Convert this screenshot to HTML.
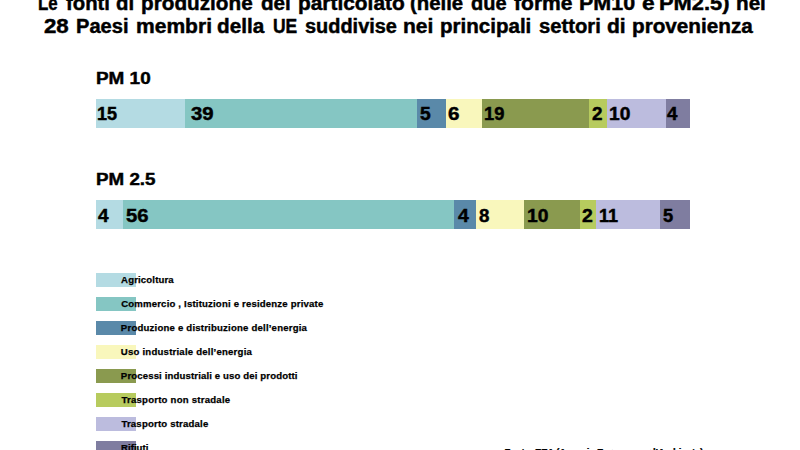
<!DOCTYPE html>
<html><head><meta charset="utf-8">
<style>
html,body{margin:0;padding:0;background:#fff;width:800px;height:450px;overflow:hidden;position:relative;}
body{font-family:"Liberation Sans", sans-serif;font-weight:bold;color:#000;}
.t{position:absolute;white-space:nowrap;line-height:1;transform-origin:0 0;-webkit-text-stroke:0.45px #000;}
.b{position:absolute;}
.c1{background:#b4dbe3}
.c2{background:#85c6c3}
.c3{background:#5a89a9}
.c4{background:#f9f7bc}
.c5{background:#8a9a4f}
.c6{background:#b7cb5e}
.c7{background:#bcbcde}
.c8{background:#7f7da0}
</style></head><body>
<div class="b c1" style="left:96.00px;top:99px;width:89.40px;height:29px;"></div>
<div class="b c2" style="left:185.40px;top:99px;width:231.60px;height:29px;"></div>
<div class="b c3" style="left:417.00px;top:99px;width:29.00px;height:29px;"></div>
<div class="b c4" style="left:446.00px;top:99px;width:36.00px;height:29px;"></div>
<div class="b c5" style="left:482.00px;top:99px;width:107.00px;height:29px;"></div>
<div class="b c6" style="left:589.00px;top:99px;width:18.00px;height:29px;"></div>
<div class="b c7" style="left:607.00px;top:99px;width:59.00px;height:29px;"></div>
<div class="b c8" style="left:666.00px;top:99px;width:24.00px;height:29px;"></div>
<div class="b c1" style="left:96.00px;top:200px;width:27.00px;height:29px;"></div>
<div class="b c2" style="left:123.00px;top:200px;width:331.00px;height:29px;"></div>
<div class="b c3" style="left:454.00px;top:200px;width:22.00px;height:29px;"></div>
<div class="b c4" style="left:476.00px;top:200px;width:48.00px;height:29px;"></div>
<div class="b c5" style="left:524.00px;top:200px;width:56.00px;height:29px;"></div>
<div class="b c6" style="left:580.00px;top:200px;width:15.50px;height:29px;"></div>
<div class="b c7" style="left:595.50px;top:200px;width:64.50px;height:29px;"></div>
<div class="b c8" style="left:660.00px;top:200px;width:29.50px;height:29px;"></div>
<div class="b c1" style="left:96px;top:273px;width:40px;height:13.5px;"></div>
<div class="b c2" style="left:96px;top:297px;width:40px;height:13.5px;"></div>
<div class="b c3" style="left:96px;top:321px;width:40px;height:13.5px;"></div>
<div class="b c4" style="left:96px;top:345px;width:40px;height:13.5px;"></div>
<div class="b c5" style="left:96px;top:369px;width:40px;height:13.5px;"></div>
<div class="b c6" style="left:96px;top:393px;width:40px;height:13.5px;"></div>
<div class="b c7" style="left:96px;top:417px;width:40px;height:13.5px;"></div>
<div class="b c8" style="left:96px;top:441px;width:40px;height:13.5px;"></div>
<div class="t" id="pm10" style="left:95.61px;top:71.32px;font-size:16.80px;transform:scaleX(1.1268);">PM 10</div>
<div class="t" id="pm25" style="left:95.73px;top:172.40px;font-size:16.80px;transform:scaleX(1.1191);">PM 2.5</div>
<div class="t" id="t1_0" style="left:38.17px;top:-7.50px;font-size:20.00px;transform:scaleX(0.8421);">Le</div>
<div class="t" id="t1_1" style="left:65.80px;top:-7.50px;font-size:20.00px;transform:scaleX(1.0151);">fonti</div>
<div class="t" id="t1_2" style="left:116.43px;top:-7.50px;font-size:20.00px;transform:scaleX(1.0179);">di</div>
<div class="t" id="t1_3" style="left:141.46px;top:-7.50px;font-size:20.00px;transform:scaleX(1.0361);">produzione</div>
<div class="t" id="t1_4" style="left:260.53px;top:-7.50px;font-size:20.00px;transform:scaleX(1.0332);">del</div>
<div class="t" id="t1_5" style="left:297.54px;top:-7.50px;font-size:20.00px;transform:scaleX(1.0440);">particolato</div>
<div class="t" id="t1_6" style="left:410.06px;top:-7.50px;font-size:20.00px;transform:scaleX(1.0182);">(nelle</div>
<div class="t" id="t1_7" style="left:470.52px;top:-7.50px;font-size:20.00px;transform:scaleX(1.0003);">due</div>
<div class="t" id="t1_8" style="left:513.84px;top:-7.50px;font-size:20.00px;transform:scaleX(1.0535);">forme</div>
<div class="t" id="t1_9" style="left:578.77px;top:-7.50px;font-size:20.00px;transform:scaleX(1.0733);">PM10</div>
<div class="t" id="t1_10" style="left:641.60px;top:-7.50px;font-size:20.00px;transform:scaleX(1.1365);">e</div>
<div class="t" id="t1_11" style="left:659.46px;top:-7.50px;font-size:20.00px;transform:scaleX(1.0944);">PM2.5)</div>
<div class="t" id="t1_12" style="left:736.46px;top:-7.50px;font-size:20.00px;transform:scaleX(1.0335);">nei</div>
<div class="t" id="t2_0" style="left:44.40px;top:16.00px;font-size:20.00px;transform:scaleX(1.1120);">28</div>
<div class="t" id="t2_1" style="left:76.26px;top:16.00px;font-size:20.00px;transform:scaleX(1.0043);">Paesi</div>
<div class="t" id="t2_2" style="left:135.65px;top:16.00px;font-size:20.00px;transform:scaleX(1.0516);">membri</div>
<div class="t" id="t2_3" style="left:217.43px;top:16.00px;font-size:20.00px;transform:scaleX(1.0347);">della</div>
<div class="t" id="t2_4" style="left:273.39px;top:16.00px;font-size:20.00px;transform:scaleX(0.8737);">UE</div>
<div class="t" id="t2_5" style="left:304.80px;top:16.00px;font-size:20.00px;transform:scaleX(0.9968);">suddivise</div>
<div class="t" id="t2_6" style="left:403.24px;top:16.00px;font-size:20.00px;transform:scaleX(1.0486);">nei</div>
<div class="t" id="t2_7" style="left:440.09px;top:16.00px;font-size:20.00px;transform:scaleX(1.0271);">principali</div>
<div class="t" id="t2_8" style="left:538.71px;top:16.00px;font-size:20.00px;transform:scaleX(1.0103);">settori</div>
<div class="t" id="t2_9" style="left:606.53px;top:16.00px;font-size:20.00px;transform:scaleX(1.0533);">di</div>
<div class="t" id="t2_10" style="left:631.56px;top:16.00px;font-size:20.00px;transform:scaleX(1.0347);">provenienza</div>
<div class="t" id="n1_0" style="left:97.49px;top:105.66px;font-size:17.70px;transform:scaleX(1.0206);">15</div>
<div class="t" id="n1_1" style="left:190.63px;top:105.86px;font-size:17.70px;transform:scaleX(1.1478);">39</div>
<div class="t" id="n1_2" style="left:419.54px;top:105.66px;font-size:17.70px;transform:scaleX(1.0891);">5</div>
<div class="t" id="n1_3" style="left:447.82px;top:105.94px;font-size:17.70px;transform:scaleX(1.1650);">6</div>
<div class="t" id="n1_4" style="left:483.52px;top:105.66px;font-size:17.70px;transform:scaleX(1.0356);">19</div>
<div class="t" id="n1_5" style="left:591.76px;top:105.51px;font-size:17.70px;transform:scaleX(1.0677);">2</div>
<div class="t" id="n1_6" style="left:609.40px;top:105.66px;font-size:17.70px;transform:scaleX(1.0859);">10</div>
<div class="t" id="n1_7" style="left:667.31px;top:105.66px;font-size:17.70px;transform:scaleX(1.0618);">4</div>
<div class="t" id="n2_0" style="left:98.41px;top:207.68px;font-size:17.70px;transform:scaleX(1.0770);">4</div>
<div class="t" id="n2_1" style="left:125.88px;top:207.68px;font-size:17.70px;transform:scaleX(1.1436);">56</div>
<div class="t" id="n2_2" style="left:457.87px;top:207.68px;font-size:17.70px;transform:scaleX(1.0987);">4</div>
<div class="t" id="n2_3" style="left:479.22px;top:207.53px;font-size:17.70px;transform:scaleX(1.0587);">8</div>
<div class="t" id="n2_4" style="left:527.10px;top:207.68px;font-size:17.70px;transform:scaleX(1.0898);">10</div>
<div class="t" id="n2_5" style="left:582.24px;top:207.60px;font-size:17.70px;transform:scaleX(1.1005);">2</div>
<div class="t" id="n2_6" style="left:599.49px;top:207.68px;font-size:17.70px;transform:scaleX(1.0218);">11</div>
<div class="t" id="n2_7" style="left:662.55px;top:207.68px;font-size:17.70px;transform:scaleX(1.0330);">5</div>
<div class="t" id="lg0" style="left:121.09px;top:275.49px;font-size:9.60px;letter-spacing:0.145px;-webkit-text-stroke-width:0.25px;">Agricoltura</div>
<div class="t" id="lg1" style="left:121.13px;top:299.04px;font-size:9.60px;letter-spacing:0.179px;-webkit-text-stroke-width:0.25px;">Commercio , Istituzioni e residenze private</div>
<div class="t" id="lg2" style="left:120.86px;top:323.05px;font-size:9.60px;letter-spacing:0.197px;-webkit-text-stroke-width:0.25px;">Produzione e distribuzione dell’energia</div>
<div class="t" id="lg3" style="left:120.86px;top:346.69px;font-size:9.60px;letter-spacing:0.211px;-webkit-text-stroke-width:0.25px;">Uso industriale dell’energia</div>
<div class="t" id="lg4" style="left:120.86px;top:371.49px;font-size:9.60px;letter-spacing:0.131px;-webkit-text-stroke-width:0.25px;">Processi industriali e uso dei prodotti</div>
<div class="t" id="lg5" style="left:121.40px;top:395.00px;font-size:9.60px;letter-spacing:0.228px;-webkit-text-stroke-width:0.25px;">Trasporto non stradale</div>
<div class="t" id="lg6" style="left:121.40px;top:418.53px;font-size:9.60px;letter-spacing:0.189px;-webkit-text-stroke-width:0.25px;">Trasporto stradale</div>
<div class="t" id="lg7" style="left:120.91px;top:442.51px;font-size:9.60px;letter-spacing:0.063px;-webkit-text-stroke-width:0.25px;">Rifiuti</div>
<div class="t" id="src" style="left:504.43px;top:447.26px;font-size:9.60px;letter-spacing:-0.208px;-webkit-text-stroke-width:0.25px;">Fonte: EEA (Agenzia Europea per l’Ambiente)</div>
</body></html>
